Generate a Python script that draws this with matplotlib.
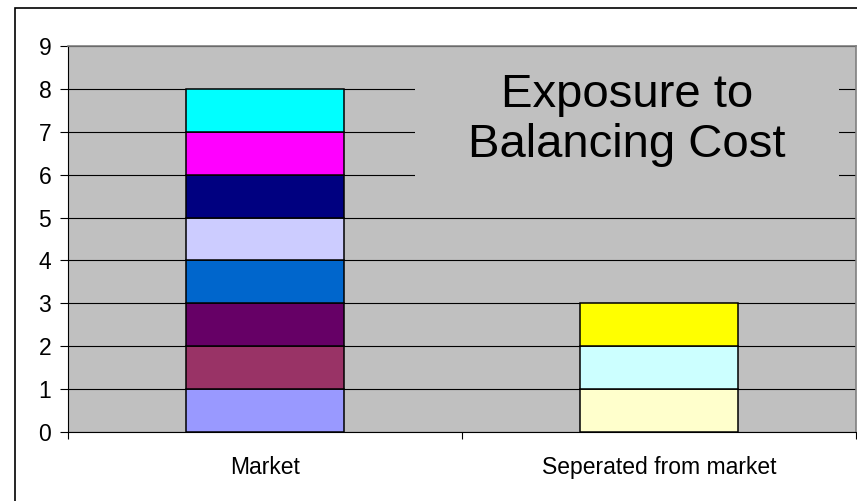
import matplotlib
matplotlib.use("Agg")
import matplotlib.pyplot as plt
import matplotlib.patches as mpatches
import matplotlib.transforms as mtransforms

plt.rcParams['font.family'] = ['Liberation Sans', 'DejaVu Sans']

# data: each stacked segment is one unit
categories = ["Market", "Seperated from market"]
market_values = [1, 1, 1, 1, 1, 1, 1, 1]
market_colors = ["#9999FF", "#993366", "#660066", "#0066CC",
                 "#CCCCFF", "#000080", "#FF00FF", "#00FFFF"]
separated_values = [1, 1, 1]
separated_colors = ["#FFFFCC", "#CCFFFF", "#FFFF00"]
y_ticks = [0, 1, 2, 3, 4, 5, 6, 7, 8, 9]
title_text = "Exposure to\nBalancing Cost"

fig = plt.figure(figsize=(8.57, 5.01), dpi=100)
fig.patch.set_facecolor("white")

# outer chart frame (cut off at right and bottom like the original)
fig.patches.append(mpatches.Rectangle((15 / 857, -0.1), 1.2, 0.1 + 1 - 8 / 501,
                                      transform=fig.transFigure, fill=False,
                                      edgecolor="black", linewidth=1.2))

ax = fig.add_axes([68 / 857, 1 - 432 / 501, 788 / 857, 386 / 501])
ax.set_facecolor("#C0C0C0")

x_pos = [0.5, 1.5]
bar_w = 0.4
for vals, cols, x in [(market_values, market_colors, x_pos[0]),
                      (separated_values, separated_colors, x_pos[1])]:
    bottom = 0
    for v, c in zip(vals, cols):
        ax.bar(x, v, width=bar_w, bottom=bottom, color=c,
               edgecolor="black", linewidth=1.1, zorder=3)
        bottom += v

ax.set_xlim(0, 2)
ax.set_ylim(0, 9)
ax.set_yticks(y_ticks)
ax.set_yticklabels([str(t) for t in y_ticks], fontsize=16.5)
ax.yaxis.grid(True, color="black", linewidth=0.8, zorder=1)
ax.set_axisbelow(True)

ax.set_xticks([0, 1, 2])
ax.set_xticklabels([])
ax.set_xticks(x_pos, minor=True)
ax.set_xticklabels(categories, minor=True, fontsize=16.5)
ax.tick_params(axis="x", which="minor", length=0, pad=17)
ax.tick_params(axis="x", which="major", length=5, width=0.8, direction="out")
ax.tick_params(axis="y", length=6, width=0.8, direction="out", pad=6)

for side in ["top", "right"]:
    ax.spines[side].set_color("#808080")
    ax.spines[side].set_linewidth(1.2)
for side in ["left", "bottom"]:
    ax.spines[side].set_color("black")
    ax.spines[side].set_linewidth(0.8)

# borderless title box on the plot area, hiding the gridlines behind it
trans = mtransforms.blended_transform_factory(ax.transAxes, ax.transData)
box = mpatches.Rectangle(((415 - 68) / 788, 5.4), (839 - 415) / 788, 3.4,
                         transform=trans, facecolor="#C0C0C0",
                         edgecolor="none", zorder=2)
ax.add_patch(box)
ax.text((627 - 68) / 788, (432 - 120) / 386, title_text, transform=ax.transAxes,
        ha="center", va="center", fontsize=34, linespacing=1.18, zorder=4)

fig.savefig("out.png", dpi=100)
